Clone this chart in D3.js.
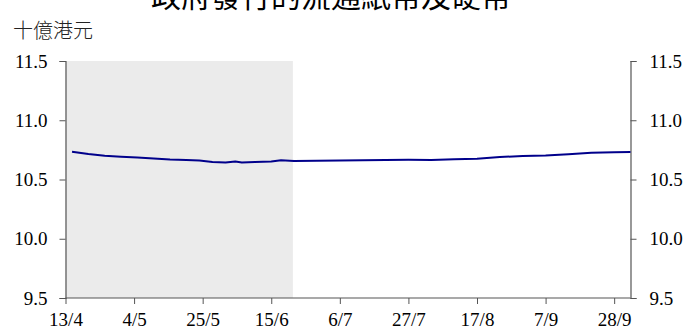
<!DOCTYPE html>
<html><head><meta charset="utf-8">
<script src="https://cdn.jsdelivr.net/npm/d3@7"></script>
<style>
html,body{margin:0;padding:0;background:#fff;}
svg{display:block;}
</style></head>
<body>
<svg id="chart" width="686" height="332"></svg>
<script>
const title = "政府發行的流通紙幣及硬幣";
const unitLabel = "十億港元";
const dates = ["15/4","20/4","25/4","30/4","5/5","10/5","15/5","20/5","24/5","28/5","1/6","4/6","6/6","10/6","15/6","18/6","22/6","29/6","6/7","13/7","20/7","27/7","3/8","10/8","17/8","24/8","31/8","7/9","14/9","21/9","28/9","3/10"];
const values = [10.735,10.715,10.700,10.691,10.685,10.677,10.669,10.665,10.660,10.648,10.644,10.652,10.644,10.648,10.652,10.662,10.656,10.659,10.660,10.662,10.665,10.667,10.665,10.670,10.676,10.690,10.698,10.703,10.714,10.725,10.730,10.732];
const xTickLabels = ["13/4","4/5","25/5","15/6","6/7","27/7","17/8","7/9","28/9"];
const yTicks = [9.5, 10.0, 10.5, 11.0, 11.5];
const xStart = "13/4", xEnd = "3/10";
const shadeStart = "13/4", shadeEnd = "21/6";
const YEAR = 2020;

const parse = s => { const [d,m] = s.split("/").map(Number); return new Date(YEAR, m-1, d); };

const svg = d3.select("#chart");
const mLeft = 65.5, mRight = 630.5, mTop = 61, mBottom = 298;

const x = d3.scaleTime().domain([parse(xStart), parse(xEnd)]).range([mLeft, mRight]);
const y = d3.scaleLinear().domain([9.5, 11.5]).range([mBottom, mTop]);

// shaded period
const shadeEndDate = new Date(parse(shadeEnd).getTime() + 15*3600*1000);
svg.append("rect")
  .attr("x", x(parse(shadeStart)))
  .attr("y", y(11.5))
  .attr("width", x(shadeEndDate) - x(parse(shadeStart)))
  .attr("height", y(9.5) - y(11.5))
  .attr("fill", "#ebebeb");

const font = "'Liberation Serif','Times New Roman',serif";
const axisColor = "#555";

const yl = svg.append("g").attr("transform", `translate(${mLeft},0)`)
  .call(d3.axisLeft(y).tickValues(yTicks).tickFormat(d3.format(".1f")).tickSizeOuter(0).tickSize(6).tickPadding(12));
const yr = svg.append("g").attr("transform", `translate(${mRight},0)`)
  .call(d3.axisRight(y).tickValues(yTicks).tickFormat(d3.format(".1f")).tickSizeOuter(0).tickSize(6).tickPadding(13));
const xa = svg.append("g").attr("transform", `translate(0,${mBottom})`)
  .call(d3.axisBottom(x).tickValues(xTickLabels.map(parse)).tickFormat(d => `${d.getDate()}/${d.getMonth()+1}`).tickSizeOuter(0).tickSize(6).tickPadding(9));

[yl, yr, xa].forEach(g => {
  g.selectAll("path.domain").attr("stroke", axisColor).attr("stroke-width", 1.2);
  g.selectAll(".tick line").attr("stroke", axisColor);
  g.selectAll(".tick text").attr("font-family", font).attr("font-size", 19).attr("fill", "#000");
});
xa.select("path.domain").attr("d", `M${mLeft},0H${mRight}`);

const line = d3.line().x((d,i) => x(parse(dates[i]))).y(d => y(d));
svg.append("path").datum(values)
  .attr("d", line)
  .attr("fill", "none")
  .attr("stroke", "#00008b")
  .attr("stroke-width", 2)
  .attr("stroke-linejoin", "round");

svg.append("text").attr("x", 331).attr("y", 7)
  .attr("text-anchor", "middle")
  .attr("font-family", "'Noto Sans CJK TC',sans-serif")
  .attr("font-size", 30)
  .attr("fill", "#000")
  .text(title);

svg.append("text").attr("x", 13).attr("y", 38)
  .attr("font-family", "'Noto Sans CJK TC',sans-serif")
  .attr("font-size", 20)
  .attr("font-weight", 300)
  .attr("fill", "#222")
  .text(unitLabel);
</script>
</body></html>
